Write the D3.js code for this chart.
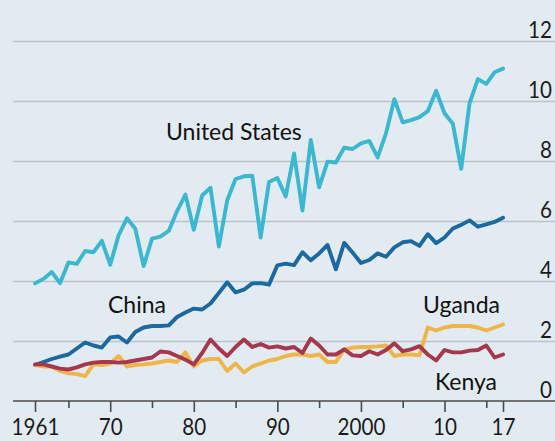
<!DOCTYPE html>
<html>
<head>
<meta charset="utf-8">
<script src="https://cdn.jsdelivr.net/npm/d3@7"></script>
<style>
  body { margin: 0; background: #e3ebf2; }
  svg { display: block; font-family: Lato, "Open Sans", sans-serif; }
  .grid line { stroke: #b9c3ca; stroke-width: 1.3; }
  .grid path { display: none; }
  .xaxis path, .xaxis line { stroke: #4a4a4a; stroke-width: 1.6; }
  .xaxis text, .grid text { fill: #1a1a1a; }
  .series { fill: none; stroke-width: 3.9; stroke-linejoin: round; stroke-linecap: round; }
  .label { font-size: 23px; fill: #111; }
</style>
</head>
<body>
<script>
// maize yield, tonnes per hectare, 1961-2017
var firstYear = 1961;

var unitedStates = [3.92, 4.07, 4.30, 3.93, 4.62, 4.57, 5.00, 4.96, 5.34, 4.54,
  5.52, 6.09, 5.74, 4.50, 5.41, 5.48, 5.67, 6.33, 6.88, 5.71,
  6.85, 7.11, 5.15, 6.69, 7.40, 7.49, 7.51, 5.45, 7.30, 7.43,
  6.82, 8.25, 6.35, 8.70, 7.12, 7.98, 7.95, 8.44, 8.40, 8.59,
  8.67, 8.12, 8.92, 10.06, 9.29, 9.36, 9.46, 9.66, 10.34, 9.59,
  9.24, 7.74, 9.93, 10.73, 10.57, 10.96, 11.08];

var china = [1.20, 1.30, 1.40, 1.48, 1.55, 1.75, 1.95, 1.85, 1.78, 2.12,
  2.15, 1.95, 2.30, 2.45, 2.50, 2.50, 2.52, 2.80, 2.95, 3.08,
  3.05, 3.25, 3.60, 3.96, 3.62, 3.71, 3.92, 3.93, 3.88, 4.52,
  4.58, 4.53, 4.96, 4.69, 4.92, 5.20, 4.39, 5.27, 4.95, 4.60,
  4.70, 4.92, 4.81, 5.12, 5.29, 5.33, 5.17, 5.56, 5.26, 5.45,
  5.75, 5.87, 6.02, 5.81, 5.89, 5.97, 6.11];

var uganda = [1.20, 1.15, 1.15, 1.00, 0.92, 0.90, 0.83, 1.22, 1.20, 1.25,
  1.50, 1.15, 1.20, 1.22, 1.25, 1.30, 1.35, 1.30, 1.62, 1.15,
  1.35, 1.40, 1.40, 1.00, 1.25, 0.95, 1.15, 1.25, 1.35, 1.40,
  1.50, 1.55, 1.55, 1.50, 1.55, 1.30, 1.30, 1.72, 1.78, 1.80,
  1.80, 1.82, 1.85, 1.50, 1.55, 1.55, 1.52, 2.45, 2.35, 2.45,
  2.50, 2.50, 2.50, 2.45, 2.35, 2.45, 2.55];

var kenya = [1.22, 1.22, 1.15, 1.08, 1.05, 1.12, 1.22, 1.28, 1.30, 1.30,
  1.28, 1.30, 1.35, 1.40, 1.45, 1.65, 1.62, 1.50, 1.38, 1.22,
  1.60, 2.05, 1.75, 1.50, 1.80, 2.05, 1.80, 1.90, 1.78, 1.82,
  1.75, 1.80, 1.60, 2.08, 1.85, 1.55, 1.55, 1.72, 1.52, 1.50,
  1.66, 1.55, 1.70, 1.92, 1.66, 1.72, 1.83, 1.55, 1.35, 1.70,
  1.62, 1.62, 1.68, 1.70, 1.85, 1.45, 1.55];

var yTicks = [0, 2, 4, 6, 8, 10, 12];
var majorYears = [1961, 1970, 1980, 1990, 2000, 2010, 2017];
var majorLabels = ["1961", "70", "80", "90", "2000", "10", "17"];
var minorYears = [1965, 1975, 1985, 1995, 2005, 2015];

var width = 555,
    height = 441;

var squeeze = 0.86; // narrow the digits a little, like the original typeface

var svg = d3.select("body").append("svg").attr("width", width).attr("height", height);

svg.append("rect").attr("width", width).attr("height", height).attr("fill", "#e3ebf2");

var x = d3.scaleLinear().domain([1961, 2017]).range([35, 503]);
var y = d3.scaleLinear().domain([0, 12]).range([401, 41]);

// gridlines + right hand labels
var grid = svg.append("g")
    .attr("class", "grid")
    .attr("transform", "translate(13,0)")
    .call(d3.axisRight(y).tickValues(yTicks).tickSize(width - 13));

grid.selectAll("text")
    .attr("x", (width - 13 - 3) / squeeze)
    .attr("dy", "-4")
    .attr("text-anchor", "end")
    .attr("transform", "scale(" + squeeze + ",1)")
    .style("font-size", "24px")
    .style("font-family", "Lato, sans-serif");

grid.selectAll(".tick").filter(function(d){ return d === 0; }).select("line").remove();

// x axis
var xaxis = svg.append("g")
    .attr("class", "xaxis")
    .attr("transform", "translate(0," + y(0) + ")");

xaxis.append("line")
    .attr("x1", 13).attr("x2", width)
    .attr("stroke", "#4a4a4a").attr("stroke-width", 1.6);

xaxis.append("g")
    .call(d3.axisBottom(x).tickValues(minorYears).tickSize(7).tickFormat(""))
    .call(function(g){ g.select(".domain").remove(); });

xaxis.append("g")
    .call(d3.axisBottom(x).tickValues(majorYears).tickSize(11).tickPadding(6)
      .tickFormat(function(d, i){ return majorLabels[i]; }))
    .call(function(g){ g.select(".domain").remove(); })
    .selectAll("text")
    .attr("transform", "scale(" + squeeze + ",1)")
    .style("font-size", "24px")
    .style("font-family", "Lato, sans-serif");

// series
var line = d3.line()
    .x(function(d, i){ return x(firstYear + i); })
    .y(function(d){ return y(d); });

var series = [
  { name: "United States", values: unitedStates, color: "#3bb7d0" },
  { name: "China", values: china, color: "#1c68a0" },
  { name: "Uganda", values: uganda, color: "#efb54b" },
  { name: "Kenya", values: kenya, color: "#a5384c" }
];

svg.append("g").selectAll("path")
    .data(series)
  .enter().append("path")
    .attr("class", "series")
    .attr("stroke", function(d){ return d.color; })
    .attr("d", function(d){ return line(d.values); });

// labels
var labels = [
  { text: "United States", x: 166, y: 140, anchor: "start" },
  { text: "China", x: 108, y: 313, anchor: "start" },
  { text: "Uganda", x: 500, y: 313, anchor: "end" },
  { text: "Kenya", x: 497, y: 390, anchor: "end" }
];

svg.append("g").selectAll("text")
    .data(labels)
  .enter().append("text")
    .attr("class", "label")
    .attr("x", function(d){ return d.x; })
    .attr("y", function(d){ return d.y; })
    .attr("text-anchor", function(d){ return d.anchor; })
    .text(function(d){ return d.text; });
</script>
</body>
</html>
